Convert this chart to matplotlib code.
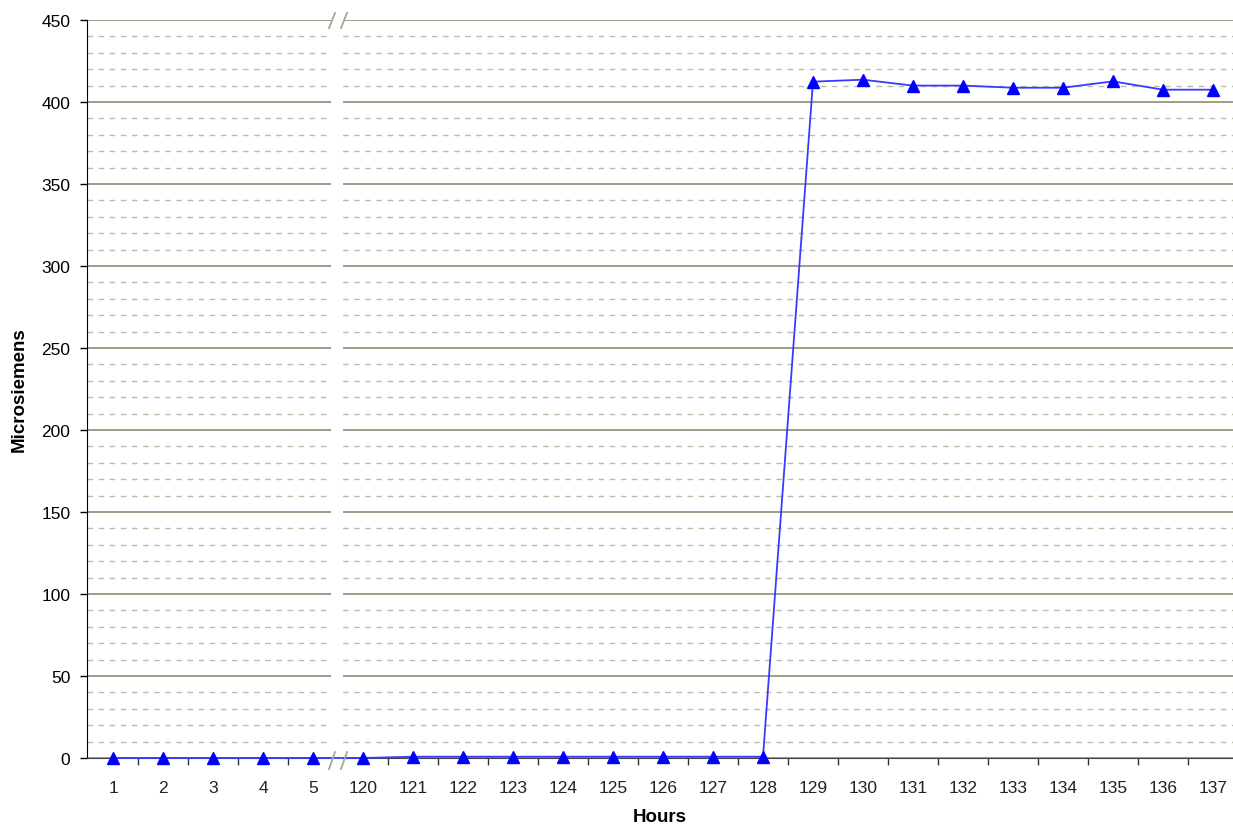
import matplotlib.pyplot as plt
import matplotlib.transforms as mtransforms
from matplotlib.patches import Rectangle
from matplotlib.ticker import MultipleLocator, FixedLocator
import numpy as np

plt.rcParams['font.family'] = ['Liberation Sans', 'DejaVu Sans']

hours = [1, 2, 3, 4, 5, 120, 121, 122, 123, 124, 125, 126, 127, 128,
         129, 130, 131, 132, 133, 134, 135, 136, 137]
microsiemens = [0, 0, 0, 0, 0, 0, 0.8, 0.8, 0.8, 0.8, 0.8, 0.8, 0.8, 0.8,
                412.4, 413.6, 410, 410, 408.7, 408.7, 412.6, 407.5, 407.5]

fig = plt.figure(figsize=(12.33, 8.29), dpi=100)
ax = fig.add_axes([87 / 1233, 70 / 829, 1 - 87 / 1233, 738 / 829])

pos = np.arange(len(hours))
ax.plot(pos, microsiemens, color='#3a3aff', lw=1.3, marker='^',
        markersize=8, markerfacecolor='#0000ff', markeredgecolor='#0000ff',
        zorder=4, clip_on=False)

ax.set_xlim(-0.52, 22.4)
ax.set_ylim(0, 450)

# y grid: solid every 50, dashed every 10
ax.yaxis.set_major_locator(MultipleLocator(50))
ax.yaxis.set_minor_locator(MultipleLocator(10))
ax.grid(which='major', axis='y', color='#959580', lw=1.3, zorder=0)
ax.grid(which='minor', axis='y', color='#bcbca6', lw=1.0, ls=(0, (4, 4)), zorder=0)
ax.set_axisbelow(True)

# x: labels centred on categories, tick marks between them
ax.xaxis.set_major_locator(FixedLocator(pos))
ax.set_xticklabels([str(h) for h in hours])
bounds = [p + 0.5 for p in pos[:-1] if p != 4]
ax.xaxis.set_minor_locator(FixedLocator(bounds))
ax.tick_params(axis='x', which='major', length=0, pad=16, labelsize=12.5, colors='#222222')
ax.tick_params(axis='x', which='minor', length=5, width=1, direction='out', color='#333333')
ax.tick_params(axis='y', which='major', length=5, width=1, direction='out', pad=7, labelsize=12.5)
ax.tick_params(axis='y', which='minor', length=0)

for s in ['top', 'right']:
    ax.spines[s].set_visible(False)
ax.spines['left'].set_color('black')
ax.spines['bottom'].set_color('#444444')

# axis break
trans = mtransforms.blended_transform_factory(ax.transData, ax.transAxes)
ax.add_patch(Rectangle((4.36, -0.01), 0.24, 1.02, transform=trans,
                       facecolor='white', edgecolor='none', zorder=2.6, clip_on=False))
for x0 in [4.32, 4.56]:
    ax.plot([x0, x0 + 0.12], [0.989, 1.0095], transform=trans, color='#a8a890',
            lw=1.3, zorder=5, clip_on=False)
    ax.plot([x0, x0 + 0.12], [-0.0149, 0.0081], transform=trans, color='#a8a890',
            lw=1.3, zorder=5, clip_on=False)

ax.set_xlabel('Hours', fontsize=13.5, fontweight='bold', labelpad=9)
ax.set_ylabel('Microsiemens', fontsize=13.5, fontweight='bold', labelpad=10)

fig.savefig('out.png', dpi=100)
